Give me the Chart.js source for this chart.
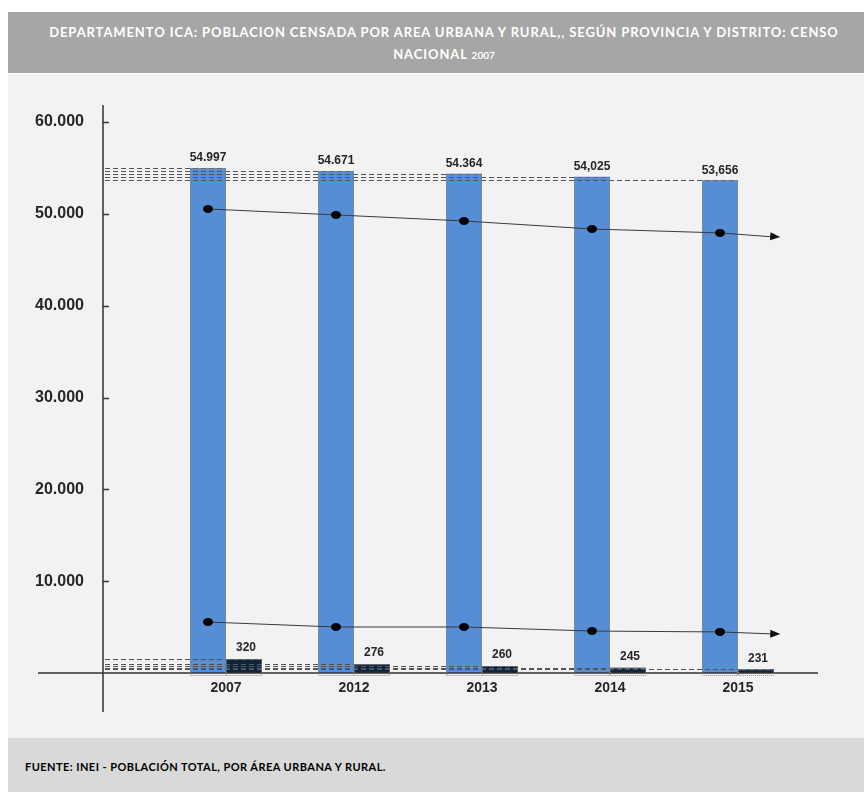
<!DOCTYPE html>
<html>
<head>
<meta charset="utf-8">
<script src="https://cdn.jsdelivr.net/npm/chart.js@4.4.1/dist/chart.umd.min.js"></script>
<style>
  html, body { margin: 0; padding: 0; background: #ffffff; }
  body { width: 864px; height: 792px; position: relative; overflow: hidden; }
  #header {
    position: absolute; left: 8px; top: 12px; width: 856px; height: 61px;
    background: #a6a6a6; color: #ffffff; text-align: center;
    font-family: 'Lato', sans-serif; font-weight: 700; font-size: 13px;
    letter-spacing: 0.9px; line-height: 22px; box-sizing: border-box; padding: 9px 0 0 16px;
  }
  #header small { font-size: 10px; letter-spacing: 0; }
  #main { position: absolute; left: 8px; top: 74px; width: 856px; height: 664px; background: #f2f2f2; }
  #footer {
    position: absolute; left: 8px; top: 738px; width: 856px; height: 54px; background: #d9d9d9;
    font-family: 'Lato', sans-serif; font-weight: 700; font-size: 11px; letter-spacing: 0.45px; color: #000;
    box-sizing: border-box; padding: 22px 0 0 17px;
  }
</style>
</head>
<body>
<div id="header">DEPARTAMENTO ICA: POBLACION CENSADA POR AREA URBANA Y RURAL,, SEGÚN PROVINCIA Y DISTRITO: CENSO<br>NACIONAL <small>2007</small></div>
<div id="main"><canvas id="chart" width="856" height="664"></canvas></div>
<div id="footer">FUENTE: INEI - POBLACIÓN TOTAL, POR ÁREA URBANA Y RURAL.</div>
<script>
// data
const categories = ['2007', '2012', '2013', '2014', '2015'];
const urbana = [54997, 54671, 54364, 54025, 53656];
const rural = [320, 276, 260, 245, 231];
const urbanaLabels = ['54.997', '54.671', '54.364', '54,025', '53,656'];
const ruralLabels = ['320', '276', '260', '245', '231'];
// trend arrows: value at each dot, value at the arrow tip
const trendUpper = [50530, 49880, 49220, 48350, 47920];
const trendUpperEnd = 47480;
const trendLower = [5550, 5010, 5010, 4570, 4470];
const trendLowerEnd = 4250;
const trendEndIndex = 4.33;

const catPct = 0.5625;

function fmt(v) {
    return String(v).replace(/\B(?=(\d{3})+(?!\d))/g, '.');
}

const decorations = {
    id: 'decorations',
    afterDatasetsDraw(chart) {
        const ctx = chart.ctx;
        const x = chart.scales.x;
        const y = chart.scales.y;
        const area = chart.chartArea;
        const axisX = 95;
        ctx.save();

        // axes
        ctx.strokeStyle = '#333333';
        ctx.lineWidth = 1.5;
        ctx.beginPath();
        ctx.moveTo(axisX, 31);
        ctx.lineTo(axisX, 638);
        ctx.moveTo(30, y.getPixelForValue(0));
        ctx.lineTo(810, y.getPixelForValue(0));
        ctx.stroke();
        y.ticks.forEach(t => {
            if (t.value === 0) return;
            const py = Math.round(y.getPixelForValue(t.value)) + 0.5;
            ctx.beginPath();
            ctx.moveTo(axisX, py);
            ctx.lineTo(axisX + 6, py);
            ctx.stroke();
        });

        const big = chart.getDatasetMeta(0).data;
        const small = chart.getDatasetMeta(1).data;

        // dashed reference lines
        ctx.strokeStyle = '#555555';
        ctx.lineWidth = 1;
        ctx.setLineDash([5, 3]);
        big.concat(small).forEach(b => {
            const py = Math.round(b.y) + 0.5;
            ctx.beginPath();
            ctx.moveTo(axisX + 2, py);
            ctx.lineTo(b.x + b.width / 2, py);
            ctx.stroke();
        });

        // dotted bar outlines
        ctx.strokeStyle = '#8a8a8a';
        ctx.setLineDash([1, 1]);
        big.concat(small).forEach(b => {
            const bottom = Math.min(b.base, area.bottom) + 2;
            ctx.strokeRect(b.x - b.width / 2 + 0.5, b.y + 0.5, b.width - 1, bottom - b.y);
        });
        ctx.setLineDash([]);

        // value labels
        ctx.fillStyle = '#262626';
        ctx.font = 'bold 12px "Liberation Sans", Arial, sans-serif';
        ctx.textAlign = 'center';
        ctx.textBaseline = 'bottom';
        big.forEach((b, i) => ctx.fillText(urbanaLabels[i], b.x, b.y - 4));
        small.forEach((b, i) => ctx.fillText(ruralLabels[i], b.x + 2, b.y - 5));

        // trend lines: dots over the urban bars, arrow towards the right
        [[trendUpper, trendUpperEnd], [trendLower, trendLowerEnd]].forEach(([vals, end]) => {
            const pts = vals.map((v, i) => ({ x: big[i].x, y: y.getPixelForValue(v) }));
            const tip = { x: x.getPixelForValue(trendEndIndex), y: y.getPixelForValue(end) };
            ctx.strokeStyle = '#3a3a3a';
            ctx.lineWidth = 1;
            ctx.beginPath();
            ctx.moveTo(pts[0].x, pts[0].y);
            pts.slice(1).forEach(p => ctx.lineTo(p.x, p.y));
            ctx.lineTo(tip.x - 6, tip.y);
            ctx.stroke();
            ctx.fillStyle = '#000000';
            pts.forEach(p => {
                ctx.beginPath();
                ctx.ellipse(p.x, p.y, 5, 4, 0, 0, Math.PI * 2);
                ctx.fill();
            });
            const last = pts[pts.length - 1];
            const a = Math.atan2(tip.y - last.y, tip.x - last.x);
            ctx.fillStyle = '#111111';
            ctx.beginPath();
            ctx.moveTo(tip.x, tip.y);
            ctx.lineTo(tip.x - 10 * Math.cos(a) + 4 * Math.sin(a), tip.y - 10 * Math.sin(a) - 4 * Math.cos(a));
            ctx.lineTo(tip.x - 10 * Math.cos(a) - 4 * Math.sin(a), tip.y - 10 * Math.sin(a) + 4 * Math.cos(a));
            ctx.closePath();
            ctx.fill();
        });
        ctx.restore();
    }
};

new Chart(document.getElementById('chart'), {
    type: 'bar',
    data: {
        labels: categories,
        datasets: [
            { label: 'Urbana', data: urbana, yAxisID: 'y', backgroundColor: '#558ed5',
              categoryPercentage: catPct, barPercentage: 1 },
            { label: 'Rural', data: rural, yAxisID: 'y2', backgroundColor: '#10253f',
              categoryPercentage: catPct, barPercentage: 1 }
        ]
    },
    options: {
        responsive: false,
        animation: false,
        layout: { padding: { left: 27, right: 62, top: 48, bottom: 0 } },
        plugins: { legend: { display: false }, tooltip: { enabled: false } },
        scales: {
            x: {
                grid: { display: false, drawTicks: false },
                border: { display: false },
                ticks: { color: '#262626', padding: 7,
                         font: { family: '"Liberation Sans", Arial, sans-serif', size: 14, weight: 'bold' } },
                afterFit: s => { s.height = 65; }
            },
            y: {
                min: 0, max: 60000,
                grid: { display: false, drawTicks: false },
                border: { display: false },
                ticks: { stepSize: 10000, padding: 0, crossAlign: 'far', color: '#262626',
                         font: { family: '"Liberation Sans", Arial, sans-serif', size: 16, weight: 'bold' },
                         callback: v => v === 0 ? '' : fmt(v) },
                afterFit: s => { s.width = 127; }
            },
            y2: { display: false, min: 200, max: 4920 }
        }
    },
    plugins: [decorations]
});
</script>
</body>
</html>
